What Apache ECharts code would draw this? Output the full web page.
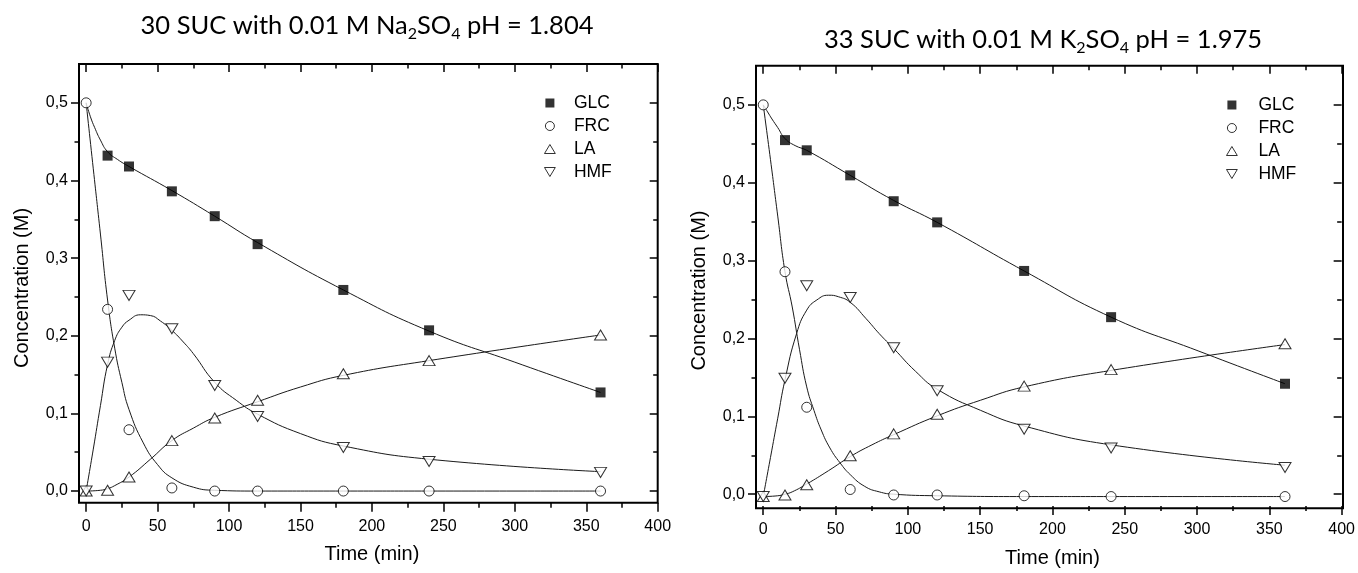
<!DOCTYPE html>
<html>
<head>
<meta charset="utf-8">
<script src="https://cdn.jsdelivr.net/npm/echarts@6/dist/echarts.min.js"></script>
<style>
  html, body { margin: 0; padding: 0; background: #fff; }
  #chart { width: 1358px; height: 573px; }
</style>
</head>
<body>
<div id="chart"></div>
<script>
// Sampling times (min)
const times = [0, 15, 30, 60, 90, 120, 180, 240, 360];

// 30 SUC + Na2SO4: measured concentrations (M)
const glcNa = [null, 0.432, 0.418, 0.386, 0.354, 0.318, 0.259, 0.207, 0.127];
const frcNa = [0.500, 0.234, 0.079, 0.004, 0.000, 0.000, 0.000, 0.000, 0.000];
const laNa  = [0.000, 0.001, 0.018, 0.065, 0.094, 0.117, 0.151, 0.168, 0.201];
const hmfNa = [0.000, 0.166, 0.252, 0.209, 0.136, 0.096, 0.056, 0.038, 0.024];

// 33 SUC + K2SO4: measured concentrations (M)
const glcK = [null, 0.455, 0.442, 0.410, 0.377, 0.350, 0.288, 0.229, 0.144];
const frcK = [0.500, 0.287, 0.114, 0.009, 0.002, 0.002, 0.001, 0.000, 0.000];
const laK  = [0.000, 0.002, 0.015, 0.052, 0.080, 0.105, 0.141, 0.162, 0.195];
const hmfK = [0.000, 0.151, 0.269, 0.254, 0.190, 0.135, 0.086, 0.062, 0.037];

// Kinetic model curves, Na2SO4 run
const glcFitNaT = [0, 3, 6, 10, 15, 22, 30, 60, 90, 120, 180, 240, 300, 360];
const glcFitNa  = [0.500, 0.482, 0.468, 0.452, 0.437, 0.427, 0.418, 0.387, 0.354, 0.320, 0.259, 0.206, 0.166, 0.127];
const frcFitNaT = [0, 5, 10, 15, 20, 25, 30, 40, 50, 60, 75, 90, 120, 180, 240, 360];
const frcFitNa  = [0.500, 0.415, 0.331, 0.246, 0.184, 0.140, 0.105, 0.062, 0.034, 0.017, 0.005, 0.001, 0.000, 0.000, 0.000, 0.000];
const laFitNaT  = [0, 10, 15, 20, 30, 45, 60, 75, 90, 120, 150, 180, 240, 360];
const laFitNa   = [0.000, 0.001, 0.003, 0.007, 0.018, 0.041, 0.065, 0.081, 0.095, 0.115, 0.134, 0.149, 0.168, 0.201];
const hmfFitNaT = [0, 5, 10, 15, 20, 25, 30, 38, 45, 52, 60, 68, 75, 90, 105, 120, 150, 180, 240, 360];
const hmfFitNa  = [0.000, 0.054, 0.110, 0.163, 0.194, 0.211, 0.220, 0.227, 0.226, 0.219, 0.207, 0.192, 0.177, 0.140, 0.117, 0.099, 0.074, 0.058, 0.041, 0.025];

// Kinetic model curves, K2SO4 run
const glcFitKT = [0, 3, 6, 10, 15, 22, 30, 60, 90, 120, 180, 240, 300, 360];
const glcFitK  = [0.500, 0.491, 0.482, 0.471, 0.457, 0.448, 0.442, 0.410, 0.378, 0.350, 0.288, 0.229, 0.186, 0.144];
const frcFitKT = [0, 5, 10, 15, 20, 25, 30, 35, 40, 46, 53, 60, 70, 80, 90, 120, 180, 240, 360];
const frcFitK  = [0.500, 0.430, 0.358, 0.287, 0.242, 0.188, 0.140, 0.110, 0.085, 0.062, 0.043, 0.028, 0.013, 0.006, 0.003, 0.001, 0.000, 0.000, 0.000];
const laFitKT  = [0, 10, 15, 20, 30, 45, 60, 75, 90, 120, 150, 180, 240, 360];
const laFitK   = [0.000, 0.001, 0.003, 0.006, 0.016, 0.033, 0.051, 0.066, 0.079, 0.103, 0.123, 0.140, 0.161, 0.194];
const hmfFitKT = [0, 5, 10, 15, 23, 30, 37, 45, 52, 60, 71, 80, 90, 105, 120, 150, 180, 240, 360];
const hmfFitK  = [0.000, 0.050, 0.100, 0.149, 0.208, 0.238, 0.251, 0.257, 0.255, 0.248, 0.227, 0.208, 0.189, 0.160, 0.137, 0.110, 0.090, 0.066, 0.040];

// Axis tick steps
const xTickStep = 50;
const yTickStep = 0.1;

// ---------------------------------------------------------------------------
const FONT = 'Liberation Sans, Arial, sans-serif';
const X_MIN = -5, X_MAX = 400, Y_MIN = -0.015, Y_MAX = 0.55;
const DOWN_TRI = 'path://M0,0L12,0L6,10Z';
const SQUARE = 'path://M0,0L10,0L10,10L0,10Z';
const UP_TRI = 'path://M6,0L12,10L0,10Z';

const panels = [
  { box: { L: 79, T: 64, R: 657.7, B: 502.7 },
    title: '30 SUC with 0.01 M Na{s|2}SO{s|4} pH = 1.804', titleX: 362, titleTop: 5,
    legend: { left: 539, top: 89, itemWidth: 38 },
    meas: [glcNa, frcNa, laNa, hmfNa],
    fits: [[glcFitNaT, glcFitNa], [frcFitNaT, frcFitNa], [laFitNaT, laFitNa], [hmfFitNaT, hmfFitNa]] },
  { box: { L: 756, T: 65.7, R: 1343, B: 508.3 },
    title: '33 SUC with 0.01 M K{s|2}SO{s|4} pH = 1.975', titleX: 1038, titleTop: 19,
    legend: { left: 1221, top: 91, itemWidth: 43 },
    meas: [glcK, frcK, laK, hmfK],
    fits: [[glcFitKT, glcFitK], [frcFitKT, frcFitK], [laFitKT, laFitK], [hmfFitKT, hmfFitK]] }
];

const names = ['GLC', 'FRC', 'LA', 'HMF'];
const openStyle = { color: '#fff', borderColor: '#000', borderWidth: 1 };
const markerDefs = [
  { symbol: 'rect', size: 10, style: { color: '#000', borderColor: '#000', borderWidth: 0 } },
  { symbol: 'circle', size: 10, style: openStyle },
  { symbol: UP_TRI, size: [12, 10], style: openStyle },
  { symbol: DOWN_TRI, size: [12, 10], style: openStyle }
];
const legendIcons = [
  { icon: SQUARE, itemStyle: { color: '#000', borderWidth: 0 } },
  { icon: 'circle', itemStyle: openStyle },
  { icon: UP_TRI, itemStyle: openStyle },
  { icon: DOWN_TRI, itemStyle: openStyle }
];

const tickLine = { color: '#000', width: 1.5 };
const labelStyle = { fontFamily: FONT, fontSize: 16, color: '#000' };

const option = {
  animation: false,
  backgroundColor: '#fff',
  title: [], legend: [], grid: [], xAxis: [], yAxis: [], series: []
};

panels.forEach((p) => {
  const b = p.box;
  const W = b.R - b.L, H = b.B - b.T;
  const xs = W / (X_MAX - X_MIN), ys = H / (Y_MAX - Y_MIN);
  // inner box spanning the labelled range [0,400] x [0,0.5]
  const iL = b.L + (0 - X_MIN) * xs;
  const iB = b.B - (0 - Y_MIN) * ys;
  const iT = iB - 0.5 * ys;

  const gF = option.grid.length;
  option.grid.push({ left: b.L, top: b.T, width: W, height: H, show: true,
                     borderColor: '#000', borderWidth: 2, backgroundColor: 'transparent' });
  option.grid.push({ left: iL, top: iT, width: b.R - iL, height: iB - iT });

  const xF = option.xAxis.length, yF = option.yAxis.length;
  // data axes spanning the whole frame
  option.xAxis.push({ gridIndex: gF, type: 'value', min: X_MIN, max: X_MAX, show: false });
  option.yAxis.push({ gridIndex: gF, type: 'value', min: Y_MIN, max: Y_MAX, show: false });

  // bottom axis: labels + outward ticks
  option.xAxis.push({
    gridIndex: gF + 1, type: 'value', position: 'bottom', min: 0, max: 400, interval: xTickStep,
    offset: b.B - iB,
    axisLine: { show: false, onZero: false },
    axisTick: { show: true, inside: false, length: 9, lineStyle: tickLine },
    minorTick: { show: true, splitNumber: 2, length: 5, lineStyle: tickLine },
    splitLine: { show: false }, minorSplitLine: { show: false },
    axisLabel: Object.assign({ margin: 16 }, labelStyle),
    name: 'Time (min)', nameLocation: 'middle', nameGap: 42,
    nameTextStyle: { fontFamily: FONT, fontSize: 20, color: '#000' }
  });
  // top mirror axis: inward ticks only
  option.xAxis.push({
    gridIndex: gF + 1, type: 'value', position: 'top', min: 0, max: 400, interval: xTickStep,
    offset: iT - b.T,
    axisLine: { show: false, onZero: false },
    axisTick: { show: true, inside: true, length: 8, lineStyle: tickLine },
    minorTick: { show: true, splitNumber: 2, length: 4.5, lineStyle: tickLine },
    splitLine: { show: false }, axisLabel: { show: false }
  });
  // left axis: labels + outward ticks
  option.yAxis.push({
    gridIndex: gF + 1, type: 'value', position: 'left', min: 0, max: 0.5, interval: yTickStep,
    offset: iL - b.L,
    axisLine: { show: false, onZero: false },
    axisTick: { show: true, inside: false, length: 8, lineStyle: tickLine },
    minorTick: { show: true, splitNumber: 2, length: 4.5, lineStyle: tickLine },
    splitLine: { show: false }, minorSplitLine: { show: false },
    axisLabel: Object.assign({ margin: 11, formatter: v => v.toFixed(1).replace('.', ',') }, labelStyle),
    name: 'Concentration (M)', nameLocation: 'middle', nameGap: 47, nameRotate: 90,
    nameTextStyle: { fontFamily: FONT, fontSize: 20, color: '#000', padding: [0, 0, 0, 18] }
  });
  // right mirror axis: inward ticks only
  option.yAxis.push({
    gridIndex: gF + 1, type: 'value', position: 'right', min: 0, max: 0.5, interval: yTickStep,
    offset: 0,
    axisLine: { show: false, onZero: false },
    axisTick: { show: true, inside: true, length: 8, lineStyle: tickLine },
    minorTick: { show: true, splitNumber: 2, length: 4.5, lineStyle: tickLine },
    splitLine: { show: false }, axisLabel: { show: false }
  });

  // model curves
  p.fits.forEach(([ts, vs], i) => {
    option.series.push({
      type: 'line', name: names[i] + ' fit', xAxisIndex: xF, yAxisIndex: yF,
      data: ts.map((t, j) => [t, vs[j]]),
      showSymbol: false, symbol: 'none', smooth: 0.5,
      lineStyle: { color: '#1a1a1a', width: 1 }, silent: true, z: 2
    });
  });
  // measured points
  p.meas.forEach((vs, i) => {
    const m = markerDefs[i];
    option.series.push({
      type: 'scatter', name: names[i], xAxisIndex: xF, yAxisIndex: yF,
      data: times.map((t, j) => [t, vs[j]]).filter(d => d[1] !== null),
      symbol: m.symbol, symbolSize: m.size, itemStyle: m.style, z: 3, silent: true
    });
  });

  option.title.push({
    text: p.title, left: p.titleX, top: p.titleTop, textAlign: 'center',
    textStyle: {
      fontFamily: 'Lato', fontSize: 25.5, fontWeight: 'normal', color: '#000', lineHeight: 32,
      rich: { s: { fontFamily: 'Lato', fontSize: 16, color: '#000', verticalAlign: 'bottom', lineHeight: 32 } }
    }
  });

  option.legend.push({
    orient: 'vertical', left: p.legend.left, top: p.legend.top,
    itemWidth: p.legend.itemWidth, itemHeight: 9, itemGap: 5, selectedMode: false,
    textStyle: { fontFamily: FONT, fontSize: 17.5, lineHeight: 18, color: '#000' },
    data: names.map((n, i) => Object.assign({ name: n }, legendIcons[i]))
  });
});

const chart = echarts.init(document.getElementById('chart'), null, { renderer: 'canvas' });
chart.setOption(option);
</script>
</body>
</html>
